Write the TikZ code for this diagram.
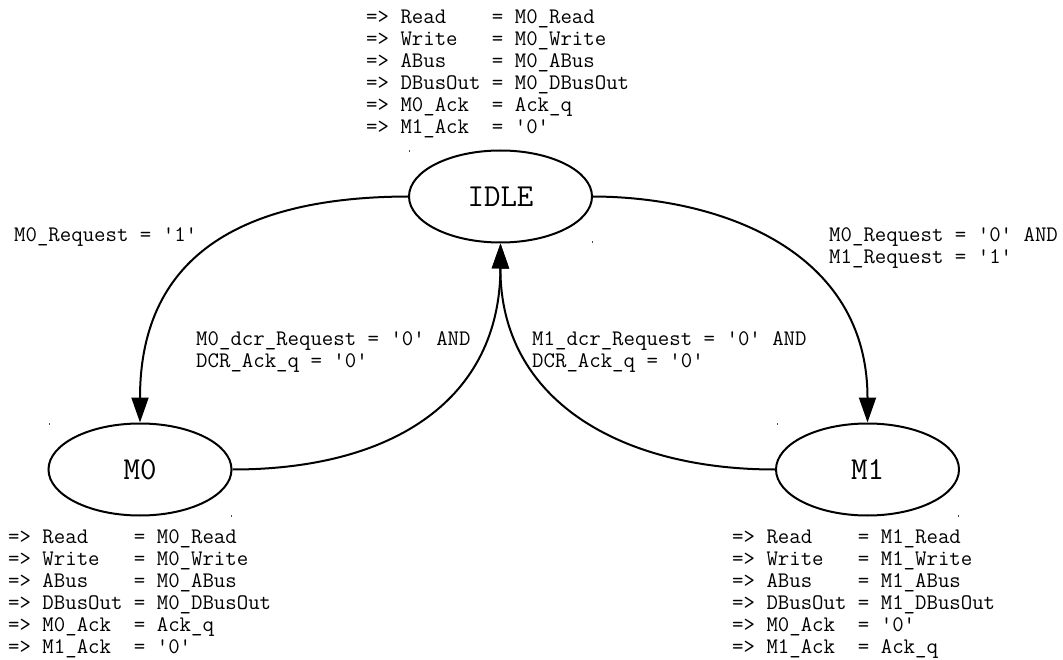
\documentclass[tikz,border=0pt]{standalone}
\usepackage{fontspec}
\setmonofont{Latin Modern Mono}
\usetikzlibrary{arrows.meta,shapes.geometric}
\tikzset{
  state/.style={draw, ellipse, line width=2pt, minimum width=183pt, minimum height=92pt,
    inner sep=0pt, font=\fontsize{32}{34}\selectfont\ttfamily},
  trans/.style={line width=2pt, -{Triangle[length=25pt,width=17pt]}},
  code/.style={align=left, inner sep=0pt, anchor=base west,
    font=\fontsize{22.2}{22}\selectfont\ttfamily},
  speck/.style={fill=black!70}
}
\begin{document}
\begin{tikzpicture}[x=1pt,y=-1pt]
  \fill[white] (0,0) rectangle (1063,660);
  \useasboundingbox (0,0) rectangle (1063,660);

  % states
  \node[state] (idle) at (500.5,196.5) {IDLE};
  \node[state] (m0)   at (140,469.5)   {M0};
  \node[state] (m1)   at (867.5,469.5) {M1};

  % small marks at the state box corners
  \fill[speck] (409,150) rectangle ++(1,2);
  \fill[speck] (591.5,241) rectangle ++(1,2);
  \fill[speck] (49,423) rectangle ++(1,2);
  \fill[speck] (231,515) rectangle ++(1,2);
  \fill[speck] (777,423) rectangle ++(1,2);
  \fill[speck] (958,515) rectangle ++(1,2);

  % transitions
  \draw[trans] (idle.west) .. controls (250,197) and (140,250) .. (m0.north);
  \draw[trans] (m0.east) .. controls (395,469.5) and (500,398) .. (idle.south);
  \draw[trans] (m1.west) .. controls (620,469.5) and (500,400) .. (idle.south);
  \draw[trans] (idle.east) .. controls (720,197) and (867.5,250) .. (m1.north);

  % transition conditions (anchored at the last line's baseline)
  \node[code] (c0) at (14,242) {M0\_Request = '1'};
  \node[code] (c1) at (196,367) {M0\_dcr\_Request = '0' AND\\DCR\_Ack\_q = '0'};
  \node[code] (c2) at (532,367) {M1\_dcr\_Request = '0' AND\\DCR\_Ack\_q = '0'};
  \node[code] (c3) at (829,264) {M0\_Request = '0' AND\\M1\_Request = '1'};

  % state outputs
  \node[code] (oidle) at (366,134) {=> Read~~~~= M0\_Read\\=> Write~~~= M0\_Write\\=> ABus~~~~= M0\_ABus\\=> DBusOut = M0\_DBusOut\\=> M0\_Ack~~= Ack\_q\\=> M1\_Ack~~= '0'};
  \node[code] (om0) at (8,653) {=> Read~~~~= M0\_Read\\=> Write~~~= M0\_Write\\=> ABus~~~~= M0\_ABus\\=> DBusOut = M0\_DBusOut\\=> M0\_Ack~~= Ack\_q\\=> M1\_Ack~~= '0'};
  \node[code] (om1) at (732,653) {=> Read~~~~= M1\_Read\\=> Write~~~= M1\_Write\\=> ABus~~~~= M1\_ABus\\=> DBusOut = M1\_DBusOut\\=> M0\_Ack~~= '0'\\=> M1\_Ack~~= Ack\_q};
\end{tikzpicture}
\end{document}
